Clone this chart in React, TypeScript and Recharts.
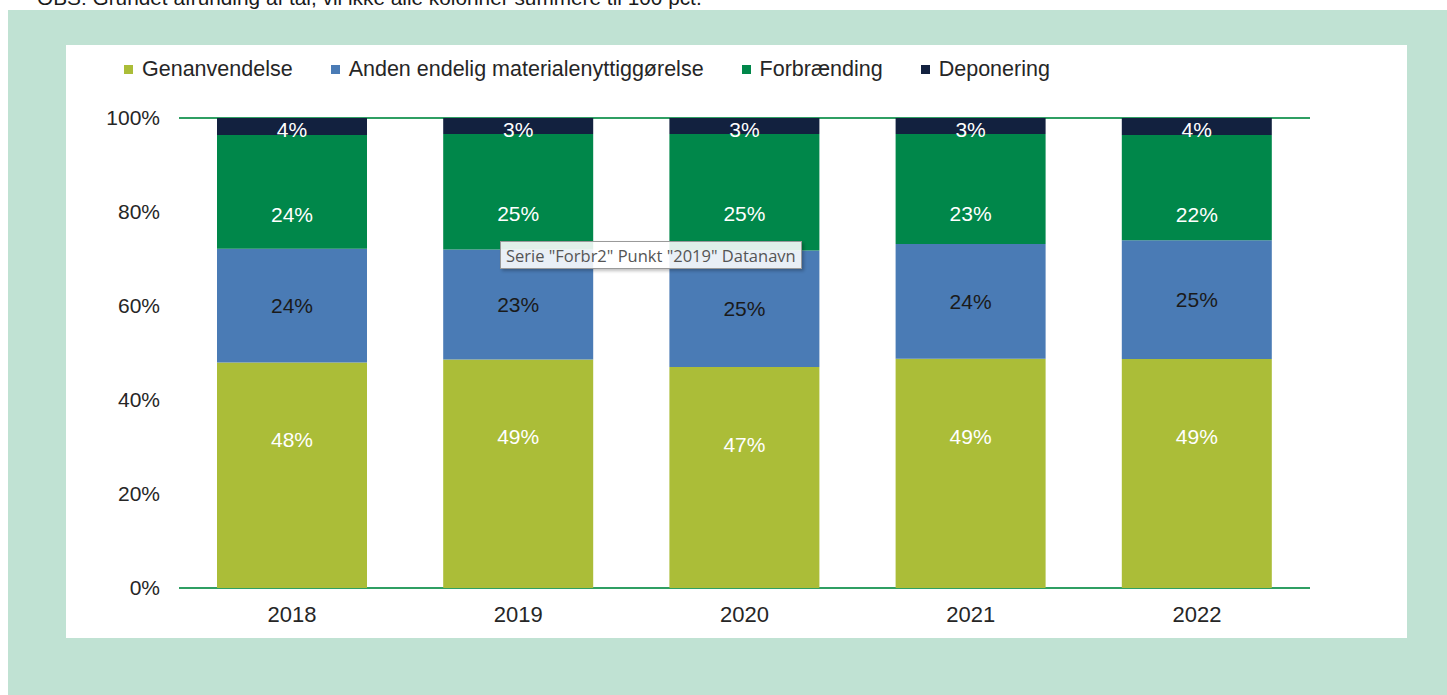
import React from "react";
import { BarChart, Bar, XAxis, YAxis, CartesianGrid, LabelList, Legend } from "recharts";

const years = ["2018", "2019", "2020", "2021", "2022"];
const genanvendelse = [48.0, 48.6, 47.0, 48.8, 48.7];
const andenEndelig = [24.2, 23.4, 24.8, 24.4, 25.3];
const forbraending = [24.2, 24.6, 24.8, 23.4, 22.4];
const deponering = [3.6, 3.4, 3.4, 3.4, 3.6];
const yTicks = [0, 20, 40, 60, 80, 100];

const seriesDefs = [
  { key: "gen", name: "Genanvendelse", color: "#abbd38", labelColor: "#ffffff", pos: "insideTop", off: 70 },
  { key: "anden", name: "Anden endelig materialenyttiggørelse", color: "#4a7bb5", labelColor: "#1a1a1a", pos: "center", off: 0 },
  { key: "forbr", name: "Forbrænding", color: "#00874a", labelColor: "#ffffff", pos: "insideTop", off: 72 },
  { key: "dep", name: "Deponering", color: "#12213f", labelColor: "#ffffff", pos: "insideTop", off: 4 },
];

const data = years.map((y, i) => ({
  year: y,
  gen: genanvendelse[i],
  anden: andenEndelig[i],
  forbr: forbraending[i],
  dep: deponering[i],
}));

const FONT = "'Liberation Sans', Arial, sans-serif";

const LegendContent = () => (
  <div style={{ display: "flex", alignItems: "center", height: 24, fontFamily: FONT, fontSize: 21.5, color: "#262626", whiteSpace: "nowrap" }}>
    {seriesDefs.map((s) => (
      <div key={s.key} style={{ display: "flex", alignItems: "center", marginRight: 38 }}>
        <span style={{ display: "inline-block", width: 9, height: 9, background: s.color, marginRight: 9 }} />
        <span>{s.name}</span>
      </div>
    ))}
  </div>
);

export default function App() {
  return (
    <div style={{ position: "absolute", left: 0, top: 0, width: 1447, height: 695, overflow: "hidden", background: "#ffffff", fontFamily: FONT }}>
      <div style={{ position: "absolute", left: 37, top: -14, fontSize: 20.8, color: "#1a1a1a", whiteSpace: "nowrap" }}>
        OBS: Grundet afrunding af tal, vil ikke alle kolonner summere til 100 pct.
      </div>
      <div style={{ position: "absolute", left: 8, top: 10, width: 1439, height: 685, background: "#c0e2d3" }} />
      <div style={{ position: "absolute", left: 66, top: 45, width: 1341, height: 593, background: "#ffffff" }}>
        <BarChart
          width={1341}
          height={593}
          data={data}
          margin={{ top: 49, right: 0, left: 0, bottom: 0 }}
          barCategoryGap="16.8%"
        >
          <Legend
            verticalAlign="top"
            align="left"
            content={<LegendContent />}
            wrapperStyle={{ top: 12, left: 58, height: 24 }}
          />
          <CartesianGrid vertical={false} stroke="#2f9f63" strokeWidth={2} />
          <XAxis
            dataKey="year"
            height={50}
            tickLine={false}
            axisLine={false}
            tickSize={0}
            tickMargin={18}
            tick={{ fill: "#262626", fontSize: 22, fontFamily: FONT }}
          />
          <YAxis
            yAxisId="left"
            orientation="left"
            width={113}
            domain={[0, 100]}
            ticks={yTicks}
            tickFormatter={(v: number) => `${v}%`}
            tickLine={false}
            axisLine={false}
            tickSize={0}
            tickMargin={19}
            tick={{ fill: "#262626", fontSize: 21, fontFamily: FONT }}
          />
          <YAxis
            yAxisId="right"
            orientation="right"
            width={97}
            domain={[0, 100]}
            ticks={yTicks}
            tickFormatter={(v: number) => `${v}%`}
            tickLine={false}
            axisLine={false}
            tickSize={0}
            tickMargin={20}
            tick={{ fill: "#262626", fontSize: 21, fontFamily: FONT, textAnchor: "start" }}
          />
          {seriesDefs.map((s) => (
            <Bar
              key={s.key}
              dataKey={s.key}
              name={s.name}
              stackId="a"
              yAxisId="left"
              fill={s.color}
              isAnimationActive={false}
            >
              <LabelList
                dataKey={s.key}
                position={s.pos as any}
                offset={s.off}
                formatter={(v: number) => `${Math.round(v)}%`}
                style={{ fill: s.labelColor, fontSize: 21, fontFamily: FONT }}
              />
            </Bar>
          ))}
        </BarChart>
      </div>
      <div
        style={{
          position: "absolute",
          left: 500,
          top: 241,
          height: 26,
          padding: "0 5px",
          display: "flex",
          alignItems: "center",
          background: "rgba(255,255,255,0.88)",
          border: "1px solid #9a9a9a",
          boxShadow: "2px 2px 3px rgba(0,0,0,0.25)",
          fontFamily: "'Open Sans', 'DejaVu Sans', sans-serif",
          fontSize: 16.5,
          color: "#555555",
          whiteSpace: "nowrap",
        }}
      >
        Serie "Forbr2" Punkt "2019" Datanavn
      </div>
    </div>
  );
}
